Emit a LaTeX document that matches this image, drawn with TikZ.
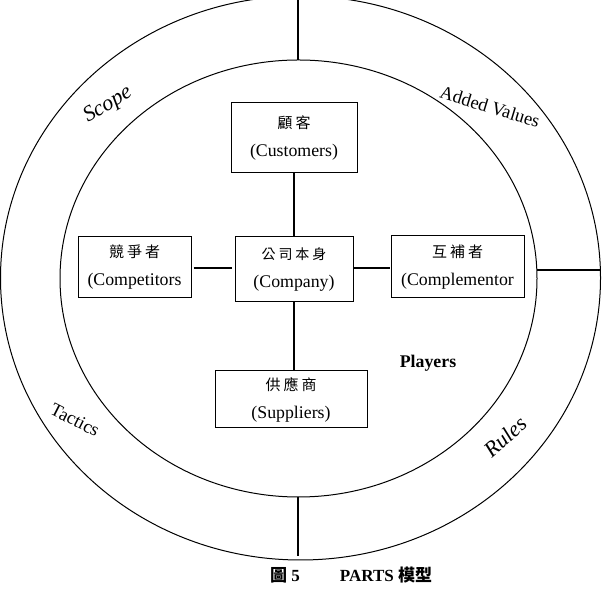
\documentclass[tikz,border=0pt]{standalone}
\usepackage{fontspec}
\setmainfont{Liberation Serif}
\newfontfamily\cjk{Noto Sans CJK TC}
\begin{document}
\begin{tikzpicture}[x=1bp,y=1bp,
  box/.style={draw, line width=1bp, align=center, inner sep=0pt,
    font=\fontsize{17.8bp}{28bp}\selectfont},
  link/.style={line width=2bp},
  ring/.style={line width=1bp},
  ringlabel/.style={font=\fontsize{18.5bp}{20bp}\selectfont, inner sep=0pt}]
\useasboundingbox (0,0) rectangle (604,593);
% rings
\draw[ring] (300.5,315) ellipse [x radius=300, y radius=282];
\draw[ring] (298.5,314.5) ellipse [x radius=238.5, y radius=218.5];
\coordinate (outTop) at (298,593);
\coordinate (inTop) at (298,533);
\coordinate (inBot) at (298,96);
\coordinate (outBot) at (298,37);
\coordinate (inRight) at (537,323);
\coordinate (outRight) at (601,323);
\draw[link] (outTop) -- (inTop);
\draw[link] (inBot) -- (outBot);
\draw[link] (inRight) -- (outRight);
% boxes
\node[box, minimum width=126bp, minimum height=70bp] (customers) at (294,455)
  {{\cjk\fontsize{15bp}{15bp}\selectfont 顧\hspace{3bp}客}\\(Customers)};
\node[box, minimum width=113bp, minimum height=61bp] (competitors) at (134.5,325.5)
  {{\cjk\fontsize{15bp}{15bp}\selectfont 競\hspace{3bp}爭\hspace{3bp}者}\\(Competitors};
\node[box, minimum width=118bp, minimum height=65bp] (company) at (294,323.5)
  {{\cjk\fontsize{14bp}{14bp}\selectfont 公\hspace{3bp}司\hspace{3bp}本\hspace{3bp}身}\\(Company)};
\node[box, minimum width=133bp, minimum height=62bp] (complementor) at (457.5,326)
  {{\cjk\fontsize{15bp}{15bp}\selectfont 互\hspace{3bp}補\hspace{3bp}者}\\(Complementor};
\node[box, minimum width=152bp, minimum height=57bp] (suppliers) at (291,193.5)
  {{\cjk\fontsize{15bp}{15bp}\selectfont 供\hspace{3bp}應\hspace{3bp}商}\\(Suppliers)};
% connectors
\draw[link] (customers.south) -- (company.north);
\draw[link] (company.south) -- (company.south |- suppliers.north);
\draw[link] ([xshift=2bp]competitors.east |- 0,325) -- ([xshift=-3bp]company.west |- 0,325);
\draw[link] (company.east |- 0,325) -- ([xshift=-1bp]complementor.west |- 0,325);
% labels
\node[font=\fontsize{17.8bp}{20bp}\selectfont\bfseries] (players) at (428,230) {Players};
\node[ringlabel, font=\fontsize{22bp}{24bp}\selectfont\itshape, rotate=31] (scope) at (108,488) {Scope};
\node[ringlabel, rotate=-17] (added) at (490,486) {Added Values};
\node[ringlabel, rotate=-27] (tactics) at (75,173) {Tactics};
\node[ringlabel, font=\fontsize{22bp}{24bp}\selectfont\itshape, rotate=42] (rules) at (505,156) {Rules};
% caption
\node[font=\fontsize{17bp}{20bp}\selectfont\bfseries] (fig) at (285,18) {{\cjk 圖} 5};
\node[font=\fontsize{17bp}{20bp}\selectfont\bfseries] (title) at (386,18) {PARTS {\cjk 模型}};
\end{tikzpicture}
\end{document}
